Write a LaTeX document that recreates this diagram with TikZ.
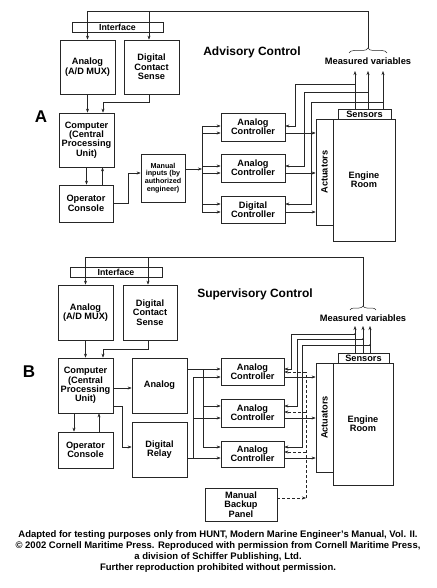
\documentclass[tikz,border=0pt]{standalone}
\usepackage{fontspec}
\usepackage{graphicx}
\setmainfont{Liberation Sans}
\usetikzlibrary{arrows.meta, decorations.pathreplacing, calc}

\begin{document}
\begin{tikzpicture}[x=1pt, y=-1pt,
		ln/.style={line width=0.5pt, black!85},
		arr/.style={ln, -{Stealth[length=4pt,width=3pt]}},
		dsh/.style={arr, dash pattern=on 3pt off 2pt},
		box/.style={draw=black!85, line width=0.7pt, align=center, inner sep=0pt, font=\fontsize{9.2}{9.4}\selectfont\bfseries},
		small/.style={font=\fontsize{7.2}{7.8}\selectfont\bfseries},
		title/.style={font=\fontsize{12}{12}\selectfont\bfseries},
		letter/.style={font=\fontsize{17}{17}\selectfont\bfseries},
		mvar/.style={font=\fontsize{9.3}{9.5}\selectfont\bfseries}]
		\useasboundingbox (0,0) rectangle (436,588);

		% A: advisory control
		\node[letter] (labA) at (41,117) {A};
		\node[title] (titleA) at (252,52) {Advisory Control};

		\node[box, minimum width=91, minimum height=10, font=\fontsize{8.8}{9}\selectfont\bfseries] (ifaceA) at (117.5,27) {Interface};
		\node[box, minimum width=55, minimum height=54] (anaA) at (87.5,67) {Analog\\(A/D MUX)};
		\node[box, minimum width=55, minimum height=54] (dcsA) at (151.5,67) {Digital\\Contact\\Sense};
		\node[box, minimum width=55, minimum height=54] (cpuA) at (86.5,140) {Computer\\(Central\\Processing\\Unit)};
		\node[box, minimum width=54, minimum height=37] (opA) at (86,203.5) {Operator\\Console};
		\node[box, small, minimum width=44, minimum height=48] (manA) at (163,178) {Manual\\inputs (by\\authorized\\engineer)};

		\node[box, minimum width=64, minimum height=28] (ac1A) at (253,127) {Analog\\Controller};
		\node[box, minimum width=64, minimum height=28] (ac2A) at (253,168) {Analog\\Controller};
		\node[box, minimum width=64, minimum height=27] (dcA) at (253,209.5) {Digital\\Controller};

		\node[box, minimum width=53, minimum height=10] (sensA) at (364.5,114) {Sensors};
		\node[box, minimum width=17, minimum height=106] (actA) at (324.5,172) {\rotatebox{90}{Actuators}};
		\node[box, fill=white, minimum width=62, minimum height=122] (engA) at (364,180) {Engine\\Room};

		% top line and measured variables
		\coordinate (brA) at (368,48);
		\coordinate (topA) at (368,11);
		\draw[ln, decorate, decoration={brace, amplitude=5pt}] ($(brA)+(-19,5)$) -- ($(brA)+(19,5)$);
		\node[mvar] (mvA) at (368,61) {Measured variables};
		\draw[arr] (brA) -- (topA) -| (anaA.north);
		\coordinate (dinA) at ([xshift=-2.5pt]dcsA.north);
		\draw[arr] (dinA |- topA) -- (dinA);

		\draw[arr] (anaA.south) -- (anaA.south |- cpuA.north);
		\draw[arr] ([xshift=-2.5pt]dcsA.south) -- ++(0,8) -| ([xshift=16.5pt]cpuA.north);
		\draw[arr] (cpuA.south) -- (cpuA.south |- opA.north);
		\coordinate (upA) at ([xshift=16.5pt]opA.north);
		\draw[arr] (upA) -- (upA |- cpuA.south);
		\draw[arr] (opA.east) -- ++(15,0) |- ([yshift=5pt]manA.west);

		% bus to the controllers
		\coordinate (busA) at (202,169);
		\draw[arr] ([yshift=9pt]manA.east) -- (busA);
		\foreach \c/\u/\l in {ac1A/126/133, ac2A/166/173, dcA/204/212}{
			\coordinate (\c-u) at (\c.west |- 0,\u);
			\coordinate (\c-l) at (\c.west |- 0,\l);
			\coordinate (\c-o) at (\c.east |- 0,\l);
			\coordinate (\c-f) at (\c.east |- 0,\u);
			\draw[arr] (busA |- \c-u) -- (\c-u);
			\draw[arr] (busA |- \c-l) -- (\c-l);
			\draw[arr] (\c-o) -- (\c-o -| actA.west);
		}
		\draw[ln] (busA |- ac1A-u) -- (busA |- dcA-l);

		% feedback from the sensors
		\foreach \n/\x/\y in {1/355/84, 2/368/92, 3/383/102}{
			\coordinate (mv\n A) at (\x,71);
			\coordinate (tap\n A) at (\x,\y);
			\draw[arr] (sensA.north -| mv\n A) -- (mv\n A);
		}
		\foreach \c/\t/\d in {ac1A/tap1A/10, ac2A/tap2A/19, dcA/tap3A/26}{
			\draw[arr] (\t) -| ([xshift=\d pt]\c-f) -- (\c-f);
		}

		% B: supervisory control
		\node[letter] (labB) at (29,372) {B};
		\node[title] (titleB) at (255,294) {Supervisory Control};

		\node[box, minimum width=92, minimum height=10, font=\fontsize{8.8}{9}\selectfont\bfseries] (ifaceB) at (116,272) {Interface};
		\node[box, minimum width=55, minimum height=55] (anaB) at (85.5,312.5) {Analog\\(A/D MUX)};
		\node[box, minimum width=54, minimum height=55] (dcsB) at (150,312.5) {Digital\\Contact\\Sense};
		\node[box, minimum width=55, minimum height=55] (cpuB) at (85.5,385.5) {Computer\\(Central\\Processing\\Unit)};
		\node[box, minimum width=55, minimum height=36] (opB) at (85.5,450) {Operator\\Console};
		\node[box, minimum width=55, minimum height=55] (anlB) at (159.5,385.5) {Analog};
		\node[box, minimum width=55, minimum height=55] (relB) at (159.5,449.5) {Digital\\Relay};

		\node[box, minimum width=63, minimum height=27] (ac1B) at (252.5,371.5) {Analog\\Controller};
		\node[box, minimum width=63, minimum height=28] (ac2B) at (252.5,413) {Analog\\Controller};
		\node[box, minimum width=63, minimum height=26] (ac3B) at (252.5,454) {Analog\\Controller};
		\node[box, minimum width=72, minimum height=33] (manB) at (241,504.5) {Manual\\Backup\\Panel};

		\node[box, minimum width=51, minimum height=10] (sensB) at (363.5,358) {Sensors};
		\node[box, minimum width=17, minimum height=109] (actB) at (324.5,417.5) {\rotatebox{90}{Actuators}};
		\node[box, fill=white, minimum width=60, minimum height=122] (engB) at (363,424) {Engine\\Room};

		% top line and measured variables
		\coordinate (brB) at (363,306);
		\coordinate (topB) at (363,257);
		\draw[ln, decorate, decoration={brace, amplitude=4pt}] ($(brB)+(-13,4)$) -- ($(brB)+(13,4)$);
		\node[mvar] (mvB) at (363,318) {Measured variables};
		\draw[arr] (brB) -- (topB) -| (anaB.north);
		\coordinate (dinB) at ([xshift=-2pt]dcsB.north);
		\draw[arr] (dinB |- topB) -- (dinB);

		\draw[arr] (anaB.south) -- (anaB.south |- cpuB.north);
		\draw[arr] ([xshift=-2pt]dcsB.south) -- ++(0,9) -| ([xshift=17.5pt]cpuB.north);
		\coordinate (dnB) at ([xshift=-11.5pt]cpuB.south);
		\draw[arr] (dnB) -- (dnB |- opB.north);
		\coordinate (upB) at ([xshift=13.5pt]opB.north);
		\draw[arr] (upB) -- (upB |- cpuB.south);
		\draw[arr] ([yshift=-2.5pt]cpuB.east) -- ([yshift=-2.5pt]anlB.west);
		\coordinate (rinB) at ([yshift=2.5pt]relB.west);
		\draw[arr] ([yshift=-20.5pt]cpuB.east) -| ([xshift=-9pt]rinB) -- (rinB);

		% buses to the controllers
		\coordinate (bus1B) at (203,369);
		\coordinate (bus2B) at (193,458);
		\coordinate (dshB) at (306,498);
		\foreach \c/\u/\l/\d in {ac1B/369/377/372, ac2B/406/418/412, ac3B/447/458/452}{
			\coordinate (\c-u) at (\c.west |- 0,\u);
			\coordinate (\c-l) at (\c.west |- 0,\l);
			\coordinate (\c-o) at (\c.east |- 0,\l);
			\coordinate (\c-f) at (\c.east |- 0,\u);
			\coordinate (\c-d) at (\c.east |- 0,\d);
			\draw[arr] (bus1B |- \c-u) -- (\c-u);
			\draw[arr] (bus2B |- \c-l) -- (\c-l);
			\draw[arr] (\c-o) -- (\c-o -| actB.west);
			\draw[dsh] (dshB |- \c-d) -- (\c-d);
		}
		\draw[ln] (anlB.east |- bus1B) -- (bus1B) -- (bus1B |- ac3B-u);
		\draw[ln] (relB.east |- bus2B) -- (bus2B) -- (bus2B |- ac1B-l);

		% manual backup
		\coordinate (mboB) at ([yshift=6.5pt]manB.east);
		\draw[dsh] (mboB) -- (mboB -| dshB);
		\draw[ln, dash pattern=on 3pt off 2pt] (dshB) -- (dshB |- ac1B-d);

		% feedback from the sensors
		\foreach \n/\x/\y in {1/355/334, 2/363/339, 3/370/345}{
			\coordinate (mv\n B) at (\x,326);
			\coordinate (tap\n B) at (\x,\y);
			\draw[arr] (sensB.north -| mv\n B) -- (mv\n B);
			\fill[black!85] (tap\n B) circle (1pt);
		}
		\foreach \c/\t/\d in {ac1B/tap1B/7, ac2B/tap2B/13, ac3B/tap3B/18}{
			\draw[arr] (\t) -| ([xshift=\d pt]\c-f) -- (\c-f);
		}

		% source note
		\node[align=center, font=\fontsize{9.5}{11.2}\selectfont\bfseries] (note) at (218,551.5) {Adapted for testing purposes only from HUNT, Modern Marine Engineer's Manual, Vol. II.\\© 2002 Cornell Maritime Press. Reproduced with permission from Cornell Maritime Press,\\a division of Schiffer Publishing, Ltd.\\Further reproduction prohibited without permission.};
	\end{tikzpicture}
\end{document}
